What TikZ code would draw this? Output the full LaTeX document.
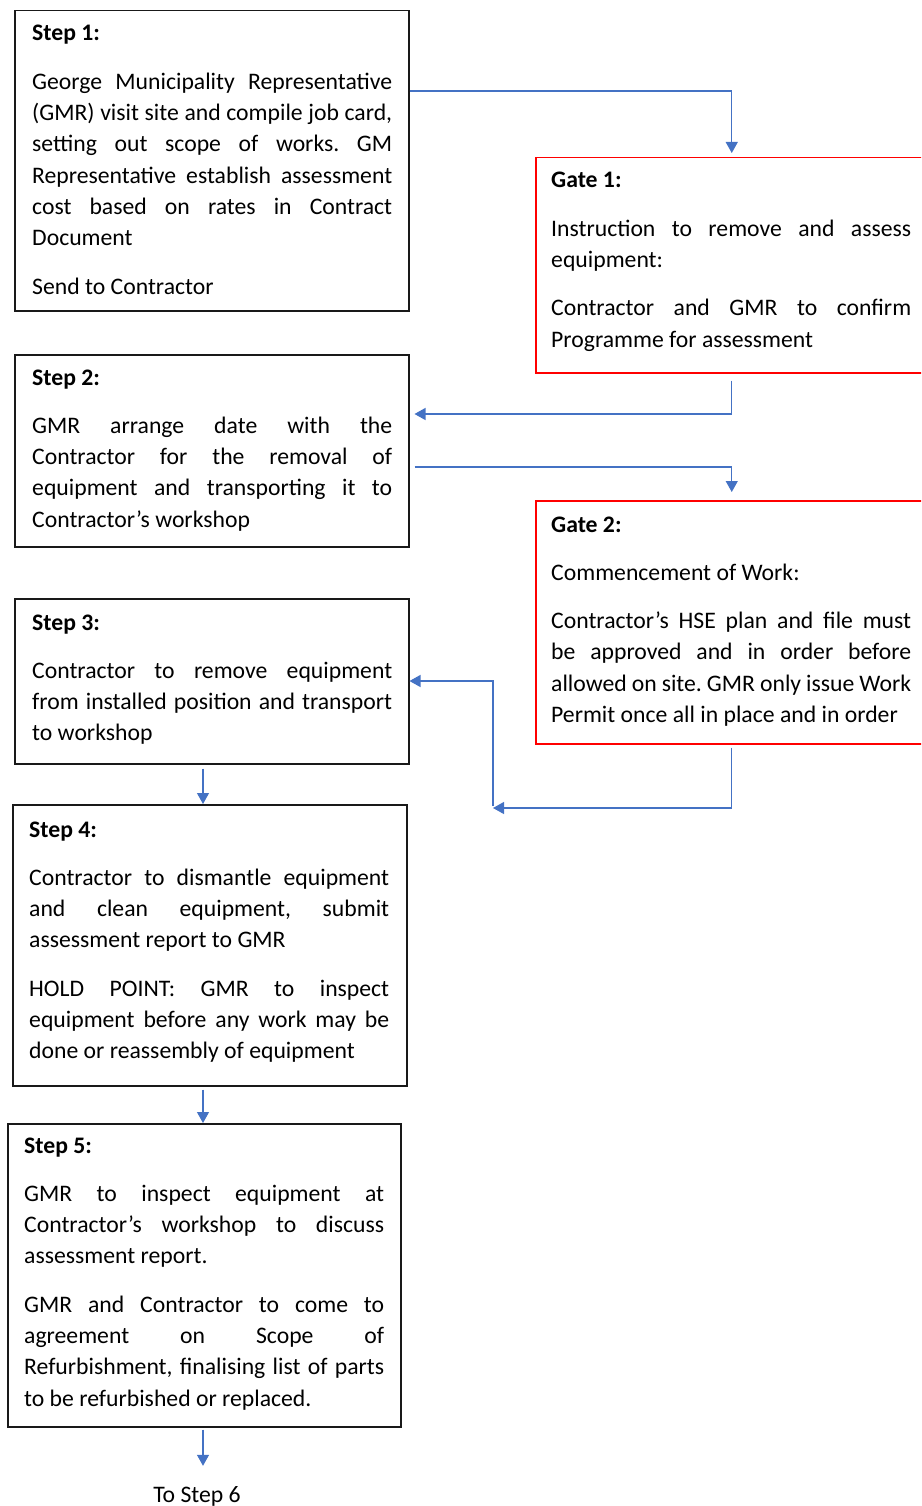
\documentclass[tikz,border=0pt]{standalone}
\usepackage{fontspec}
\setmainfont{Carlito}
\usetikzlibrary{positioning,calc,arrows.meta}

\definecolor{flowblue}{RGB}{68,114,196}
\definecolor{gatered}{RGB}{255,0,0}

% one justified line of a box text
\newcommand{\justline}[1]{\makebox[\hsize][s]{#1}\\}

\tikzset{
  stepbox/.style={draw=black!90, line width=1.5pt, anchor=north west, inner sep=0pt},
  gatebox/.style={draw=gatered, line width=1.5pt, anchor=north west, inner sep=0pt},
  boxtext/.style={anchor=base west, text width=360pt, inner sep=0pt, align=justify,
    font=\fontsize{23.7pt}{31.3pt}\selectfont\frenchspacing,
    execute at begin node={\spaceskip=0pt\xspaceskip=0pt}},
  flow/.style={draw=flowblue, line width=1.2pt, -{Triangle[length=11pt,width=12pt]}}
}

\begin{document}
\begin{tikzpicture}[x=1pt,y=-1pt]
  \useasboundingbox (0,0) rectangle (921,1506);
  \clip (0,0) rectangle (921,1506);

  % Boxes
  \node[stepbox, minimum width=394pt, minimum height=300pt] (s1) at (14,10) {};
  \node[gatebox, minimum width=392pt, minimum height=215pt] (g1) at (535,157) {};
  \node[stepbox, minimum width=394pt, minimum height=192pt] (s2) at (14,354) {};
  \node[gatebox, minimum width=392pt, minimum height=243pt] (g2) at (535,500) {};
  \node[stepbox, minimum width=394pt, minimum height=165pt] (s3) at (14,598) {};
  \node[stepbox, minimum width=394pt, minimum height=281pt] (s4) at (12,804) {};
  \node[stepbox, minimum width=393pt, minimum height=303pt] (s5) at (7,1123) {};

  % Texts
  \node[boxtext] (s1t) at (32,41) {\textbf{Step 1:}\\[17pt]
    \justline{George Municipality Representative}
    \justline{(GMR) visit site and compile job card,}
    \justline{setting out scope of works. GM}
    \justline{Representative establish assessment}
    \justline{cost based on rates in Contract}
    Document\\[17pt]
    Send to Contractor};

  \node[boxtext] (g1t) at (551,188) {\textbf{Gate 1:}\\[17pt]
    \justline{Instruction to remove and assess}
    equipment:\\[17pt]
    \justline{Contractor and GMR to confirm}
    Programme for assessment};

  \node[boxtext] (s2t) at (32,385) {\textbf{Step 2:}\\[17pt]
    \justline{GMR arrange date with the}
    \justline{Contractor for the removal of}
    \justline{equipment and transporting it to}
    Contractor’s workshop};

  \node[boxtext] (g2t) at (551,532) {\textbf{Gate 2:}\\[17pt]
    Commencement of Work:\\[17pt]
    \justline{Contractor’s HSE plan and file must}
    \justline{be approved and in order before}
    \justline{allowed on site. GMR only issue Work}
    Permit once all in place and in order};

  \node[boxtext] (s3t) at (32,630) {\textbf{Step 3:}\\[17pt]
    \justline{Contractor to remove equipment}
    \justline{from installed position and transport}
    to workshop};

  \node[boxtext] (s4t) at (29,837) {\textbf{Step 4:}\\[17pt]
    \justline{Contractor to dismantle equipment}
    \justline{and clean equipment, submit}
    assessment report to GMR\\[17pt]
    \justline{HOLD POINT: GMR to inspect}
    \justline{equipment before any work may be}
    done or reassembly of equipment};

  \node[boxtext] (s5t) at (24,1153) {\textbf{Step 5:}\\[17pt]
    \justline{GMR to inspect equipment at}
    \justline{Contractor’s workshop to discuss}
    assessment report.\\[17pt]
    \justline{GMR and Contractor to come to}
    \justline{agreement on Scope of}
    \justline{Refurbishment, finalising list of parts}
    to be refurbished or replaced.};

  \node[anchor=base, inner sep=0pt, font=\fontsize{23.7pt}{31.3pt}\selectfont] (to6) at (197,1502) {To Step 6};

  % Connectors
  \coordinate (colx) at (203,0);
  \coordinate (jn) at (493,808);
  \draw[flow] (s1.east |- 0,91) -| ([yshift=4pt]g1.north);
  \draw[flow] ([yshift=-7pt]g1.south) |- ($(s2.east |- 0,414)+(5,0)$);
  \draw[flow] ($(s2.east |- 0,467)+(5,0)$) -| ([yshift=8pt]g2.north);
  \draw[flow] ([yshift=-3pt]g2.south) |- (jn);
  \draw[flow] ($(jn)+(0,-2)$) |- (s3.east |- 0,681);
  \draw[flow] ($(s3.south -| colx)+(0,4)$) -- (s4.north -| colx);
  \draw[flow] ($(s4.south -| colx)+(0,3)$) -- (s5.north -| colx);
  \draw[flow] ($(s5.south -| colx)+(0,2)$) -- ($(to6.north -| colx)+(0,-20)$);
\end{tikzpicture}
\end{document}
